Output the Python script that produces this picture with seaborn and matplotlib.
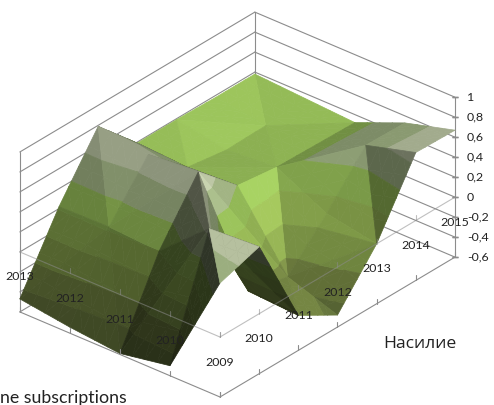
import numpy as np
import matplotlib
matplotlib.use("Agg")
import matplotlib.pyplot as plt
import matplotlib.tri as mtri
from mpl_toolkits.mplot3d import proj3d
from mpl_toolkits.mplot3d.art3d import Poly3DCollection
import seaborn as sns

sns.set_theme(style="white")
plt.rcParams['font.family'] = ['Lato', 'Open Sans', 'DejaVu Sans']

years_x = [2009, 2010, 2011, 2012, 2013, 2014, 2015]
years_y = [2009, 2010, 2011, 2012, 2013]
z_ticks = [-0.6, -0.4, -0.2, 0, 0.2, 0.4, 0.6, 0.8, 1]
z_labels = ['-0,6', '-0,4', '-0,2', '0', '0,2', '0,4', '0,6', '0,8', '1']

row_2009 = [0.54, 0.67, -0.25, -0.48, 0.00, 0.68, 0.67]
row_2010 = [-0.50, 0.64, -0.22, -0.31, 0.09, 0.54, 0.53]
row_2011 = [-0.59, 0.20, 0.76, 0.39, 0.34, 0.33, 0.32]
row_2012 = [-0.54, 0.23, 0.72, 0.36, 0.30, 0.31, 0.35]
row_2013 = [-0.47, 0.22, 0.79, 0.39, 0.39, 0.38, 0.38]
rows = [row_2009, row_2010, row_2011, row_2012, row_2013]

band_edges = [-0.6, -0.4, -0.2, 0, 0.2, 0.4, 0.6, 0.8, 1.0]
band_colors = sns.color_palette(['#788a47', '#869a4d', '#9ab857', '#a8cc5f',
                                 '#aad664', '#bcd29a', '#dce8c0', '#e5ecd0'])
GRID = '#8c8c8c'
TEXT = '#222222'

fig = plt.figure(figsize=(4.94, 4.05), dpi=100)
ax = fig.add_axes([0, 0, 1, 1], projection='3d', proj_type='ortho', computed_zorder=False)
ax.set_axis_off()
ax.view_init(elev=30.2, azim=-139.8)
box = (364, 262, 185)
ax.set_box_aspect(box, zoom=1.0)
ax.set_xlim(years_x[0], years_x[-1], view_margin=0)
ax.set_ylim(years_y[0], years_y[-1], view_margin=0)
ax.set_zlim(z_ticks[0], z_ticks[-1], view_margin=0)

# surface: union-jack triangles over the value grid, split only to paint value bands
nx, ny = len(years_x), len(years_y)
X, Y = np.meshgrid(years_x, years_y)
Z = np.array(rows)
idx = lambda i, j: j * nx + i
tris = []
for j in range(ny - 1):
    for i in range(nx - 1):
        a, b, c, d = idx(i, j), idx(i + 1, j), idx(i + 1, j + 1), idx(i, j + 1)
        if (i + j) % 2 == 0:
            tris += [[a, b, c], [a, c, d]]
        else:
            tris += [[a, b, d], [b, c, d]]
base = mtri.Triangulation(X.ravel().astype(float), Y.ravel().astype(float), np.array(tris))
linear = mtri.LinearTriInterpolator(base, Z.ravel())
fine, zf = mtri.UniformTriRefiner(base).refine_field(Z.ravel(), triinterpolator=linear, subdiv=2)
V = np.c_[fine.x, fine.y, zf]
scale_vec = np.array([box[0] / (years_x[-1] - years_x[0]),
                      box[1] / (years_y[-1] - years_y[0]),
                      box[2] / (z_ticks[-1] - z_ticks[0])])

def clip_z(poly, lo, hi):
    """Keep the part of a flat polygon that lies between two values."""
    for sign, lim in ((1, lo), (-1, hi)):
        out = []
        for k in range(len(poly)):
            p, q = poly[k], poly[(k + 1) % len(poly)]
            dp, dq = sign * (p[2] - lim), sign * (q[2] - lim)
            if dp >= 0:
                out.append(p)
            if dp * dq < 0:
                out.append(p + (q - p) * dp / (dp - dq))
        poly = out
        if len(poly) < 3:
            return []
    return poly

def shade_of(tri):
    n = np.cross((tri[1] - tri[0]) * scale_vec, (tri[2] - tri[0]) * scale_vec)
    n = n / np.linalg.norm(n)
    n = n * np.sign(n[2] + 1e-9)
    s = -0.12 + 0.97 * n[2] - 0.1 * n[0] - 0.35 * n[1] + 0.3 * max(-n[1] - max(-n[0], 0), 0)
    return float(np.clip(s, 0.25, 1.08))

polys, colors = [], []
for t in fine.triangles:
    tri = V[t]
    s = shade_of(tri)
    for b, (lo, hi) in enumerate(zip(band_edges[:-1], band_edges[1:])):
        piece = clip_z(list(tri), lo, hi)
        if piece:
            polys.append(np.array(piece))
            colors.append(np.clip(np.array(band_colors[b]) * s, 0, 1))

surf = Poly3DCollection(polys, facecolors=colors, edgecolors=colors, linewidths=0.5,
                        zorder=2, clip_on=False)
ax.add_collection3d(surf, autolim=False)

LW = 0.8
xa, xb = years_x[0], years_x[-1]
ya, yb = years_y[0], years_y[-1]
za, zb = z_ticks[0], z_ticks[-1]
line = dict(color=GRID, lw=LW, clip_on=False)

# walls (behind the surface)
for z in z_ticks:
    ax.plot([xa, xb], [yb, yb], [z, z], zorder=1, **line)
    ax.plot([xb, xb], [ya, yb], [z, z], zorder=1, **line)
ax.plot([xa, xa], [yb, yb], [za, zb], zorder=1, **line)
ax.plot([xb, xb], [yb, yb], [za, zb], zorder=1, **line)
ax.plot([xb, xb], [ya, ya], [za, zb], zorder=1, **line)

# category axes on the floor and at zero
tick_up = 0.05
for z, a in [(za, 1.0), (0, 0.55)]:
    ax.plot([xa, xb], [ya, ya], [z, z], alpha=a, zorder=3, **line)
    ax.plot([xa, xa], [ya, yb], [z, z], alpha=a, zorder=3, **line)
    for x in years_x:
        ax.plot([x, x], [ya, ya], [z, z + tick_up], alpha=a, zorder=3, **line)
    for y in years_y:
        ax.plot([xa, xa], [y, y], [z, z + tick_up], alpha=a, zorder=3, **line)
for z in z_ticks:
    ax.plot([xb, xb], [ya, ya], [z, z], color=GRID, marker='_', ms=5, zorder=3, clip_on=False)

# fit the projected floor onto the reference frame
def corner_px(x, y, z):
    fig.canvas.draw()
    px, py, _ = proj3d.proj_transform(x, y, z, ax.get_proj())
    d = ax.transData.transform((px, py))
    return d[0], 405 - d[1]

p0 = corner_px(xa, ya, za)
p1 = corner_px(xb, ya, za)
ax.set_box_aspect(box, zoom=(455 - 220) / (p1[0] - p0[0]))
p0 = corner_px(xa, ya, za)
ax.set_position([(220 - p0[0]) / 494, (p0[1] - 397) / 405, 1, 1])

def label(px, py, s, **kw):
    fig.text(px / 494, 1 - py / 405, s, zorder=5, color=TEXT, **kw)

for z, lab in zip(z_ticks, z_labels):
    px, py = corner_px(xb, ya, z)
    label(px + 12, py, lab, ha='left', va='center', fontsize=8.9)
for x in years_x:
    px, py = corner_px(x, ya, 0)
    label(px, py + 25, str(x), ha='center', va='center', fontsize=8.9)
for y in years_y[1:]:
    px, py = corner_px(xa, y, 0)
    label(px, py + 25, str(y), ha='center', va='center', fontsize=8.9)

label(383, 344, 'Насилие', ha='left', va='center', fontsize=12.6, family=['Open Sans', 'DejaVu Sans'])
label(0, 403, 'ne subscriptions', ha='left', va='baseline', fontsize=12.8)

fig.savefig('out.png', dpi=100)
